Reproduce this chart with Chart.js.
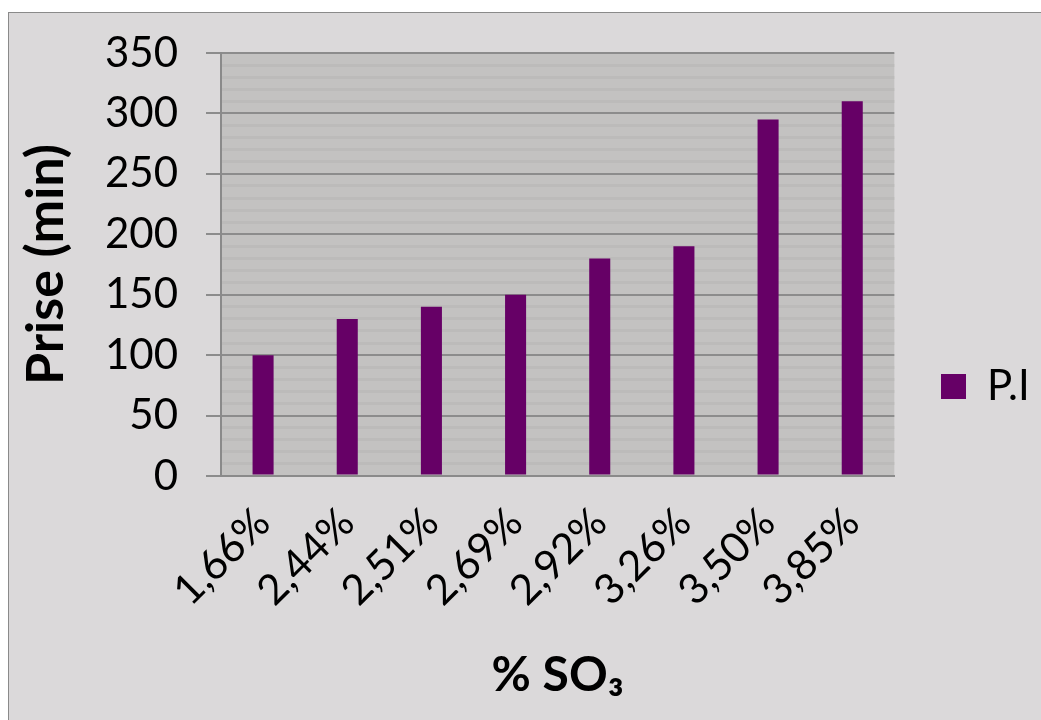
<!DOCTYPE html>
<html>
<head>
<meta charset="utf-8">
<script src="https://cdn.jsdelivr.net/npm/chart.js@4"></script>
<style>
  html, body { margin: 0; padding: 0; background: #ffffff; }
  #box { position: absolute; left: 8px; top: 12px; width: 1032px; height: 707px;
         background: #dbd9da; border: 1px solid #8a8a8a; }
  #wrap { position: absolute; left: 0; top: 0; width: 1032px; height: 707px; }
</style>
</head>
<body>
<div id="box"><div id="wrap"><canvas id="c"></canvas></div></div>
<script>
const categories = ['1,66%', '2,44%', '2,51%', '2,69%', '2,92%', '3,26%', '3,50%', '3,85%'];
const seriesName = 'P.I';
const seriesValues = [100, 130, 140, 150, 180, 190, 295, 310];
const yMin = 0, yMax = 350, yStep = 50, minorStep = 10;
const yTitle = 'Prise (min)';
const xTitle = '% SO\u2083';

const FONT = 'Lato, "Open Sans", sans-serif';

const plotBg = {
  id: 'plotBg',
  beforeDraw(chart) {
    const a = chart.chartArea, ctx = chart.ctx;
    ctx.save();
    ctx.fillStyle = '#c3c2c1';
    ctx.fillRect(a.left, a.top, a.right - a.left, a.bottom - a.top);
    ctx.restore();
  }
};
const legendShift = {
  id: 'legendShift',
  afterLayout(chart) {
    const lg = chart.legend;
    if (lg) { const d = 884 + 38 - lg.left; lg.left += d; lg.right += d; }
  }
};

new Chart(document.getElementById('c'), {
  type: 'bar',
  data: {
    labels: categories,
    datasets: [{
      label: seriesName,
      data: seriesValues,
      backgroundColor: '#660066',
      borderWidth: 0,
      barPercentage: 0.5,
      categoryPercentage: 0.5
    }]
  },
  plugins: [plotBg, legendShift],
  options: {
    responsive: true,
    maintainAspectRatio: false,
    animation: false,
    devicePixelRatio: 1,
    layout: { padding: { top: 40, right: 38, left: 0, bottom: 0 } },
    plugins: {
      tooltip: { enabled: false },
      legend: {
        position: 'right',
        labels: {
          boxWidth: 25, boxHeight: 25, padding: 10,
          color: '#000', font: { family: FONT, size: 42 }
        }
      }
    },
    scales: {
      x: {
        grid: { display: false, drawTicks: false },
        border: { display: true, color: '#8a8a8a', width: 2 },
        ticks: { color: '#000', font: { family: FONT, size: 42 }, minRotation: 45, maxRotation: 45, padding: 22, autoSkip: false },
        title: { display: true, text: xTitle, color: '#000', font: { family: FONT, size: 48, weight: 'bold' }, padding: { top: 10, bottom: 16 } },
        afterFit(s) { s.height = 244; }
      },
      y2: {
        position: 'left',
        min: yMin, max: yMax,
        grid: {
          color: (ctx) => (ctx.tick && ctx.tick.value % yStep === 0) ? 'rgba(0,0,0,0)' : '#bcbbba',
          lineWidth: 3, drawTicks: false
        },
        border: { display: false },
        ticks: { display: false, stepSize: minorStep },
        afterFit(s) { s.width = 0; s.paddingTop = 0; s.paddingBottom = 0; }
      },
      y: {
        position: 'left',
        min: yMin, max: yMax,
        grid: { color: '#8c8c8c', lineWidth: 2, tickLength: 15, tickColor: '#8c8c8c' },
        border: { display: true, color: '#8a8a8a', width: 2 },
        ticks: { stepSize: yStep, color: '#000', font: { family: FONT, size: 42 }, padding: 28 },
        title: { display: true, text: yTitle, color: '#000', font: { family: FONT, size: 52, weight: 'bold' }, padding: { top: 6, bottom: 0 } },
        afterFit(s) { s.width = 212; s.paddingTop = 0; s.paddingBottom = 0; }
      }
    }
  }
});
</script>
</body>
</html>
